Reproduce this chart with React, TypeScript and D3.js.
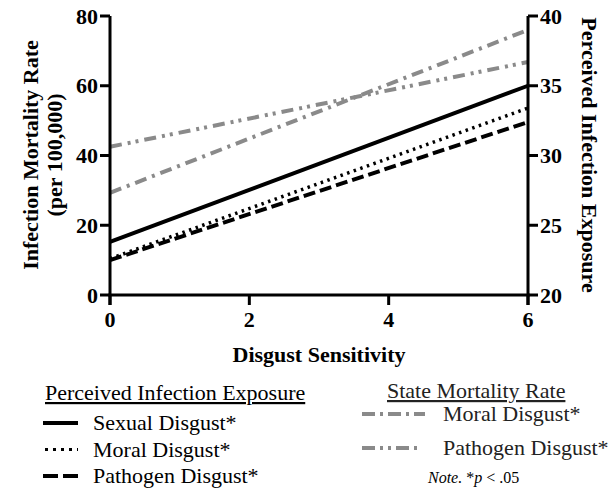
import React from "react";
import * as d3 from "d3";

// disgust sensitivity endpoints
const xValues = [0, 6];
const xTicks = [0, 2, 4, 6];
const leftTicks = [0, 20, 40, 60, 80];
const rightTicks = [20, 25, 30, 35, 40];

// Perceived Infection Exposure (right axis)
const exposureNames = ["Sexual Disgust*", "Moral Disgust*", "Pathogen Disgust*"];
const exposureValues = [
  [23.8, 35.0],
  [22.6, 33.4],
  [22.5, 32.4],
];

// State Mortality Rate (left axis)
const mortalityNames = ["Moral Disgust*", "Pathogen Disgust*"];
const mortalityValues = [
  [29.3, 76.0],
  [42.5, 66.8],
];

const exposureDash = ["", "2.5 4.5", "12 5"];
const mortalityDash = ["12 6 3 6", "12 6 3 5 3 6"];
const exposureKeyDash = ["", "3 5", "15 5"];
const mortalityKeyDash = ["13 5 3 5 13 5 3 5 12", "13 5 3 5 3 5 13 5 3"];
const GRAY = "#8a8a8a";

// font set on every text element
const bold = (size: number) => ({
  fontFamily: "Liberation Serif",
  fontWeight: "bold" as const,
  fontSize: size,
});
const plain = (size: number) => ({ fontFamily: "Liberation Serif", fontSize: size });

const App = () => {
  const width = 611;
  const height = 495;
  const x = d3.scaleLinear().domain([0, 6]).range([110, 528]);
  const yL = d3.scaleLinear().domain([0, 80]).range([295, 16]);
  const yR = d3.scaleLinear().domain([20, 40]).range([295, 16]);

  const lineL = d3
    .line<number>()
    .x((_, i) => x(xValues[i]))
    .y((d) => yL(d));
  const lineR = d3
    .line<number>()
    .x((_, i) => x(xValues[i]))
    .y((d) => yR(d));

  return (
    <svg
      width={width}
      height={height}
      style={{ position: "absolute", left: 0, top: 0, background: "#fff" }}
    >
      {/* data lines */}
      {mortalityValues.map((v, i) => (
        <path
          key={"m" + i}
          d={lineL(v) || ""}
          fill="none"
          stroke={GRAY}
          strokeWidth={4}
          strokeDasharray={mortalityDash[i]}
        />
      ))}
      {exposureValues.map((v, i) => (
        <path
          key={"e" + i}
          d={lineR(v) || ""}
          fill="none"
          stroke="#000"
          strokeWidth={i === 1 ? 3.5 : 4}
          strokeDasharray={exposureDash[i]}
        />
      ))}

      {/* axes */}
      <g stroke="#000" strokeWidth={3} fill="none">
        <line x1={x(0)} x2={x(0)} y1={yL(80)} y2={yL(0) + 10} />
        <line x1={x(6)} x2={x(6)} y1={yR(40)} y2={yR(20) + 10} />
        <line x1={x(0) - 1.5} x2={x(6) + 1.5} y1={yL(0)} y2={yL(0)} />
        {leftTicks.map((t) => (
          <line key={"lt" + t} x1={x(0) - 10} x2={x(0)} y1={yL(t)} y2={yL(t)} />
        ))}
        {rightTicks.map((t) => (
          <line key={"rt" + t} x1={x(6)} x2={x(6) + 10} y1={yR(t)} y2={yR(t)} />
        ))}
        {xTicks.map((t) => (
          <line key={"xt" + t} x1={x(t)} x2={x(t)} y1={yL(0)} y2={yL(0) + 10} />
        ))}
      </g>
      <g fill="#000">
        {leftTicks.map((t) => (
          <text key={"ll" + t} x={x(0) - 12} y={yL(t)} dy="0.35em" textAnchor="end" style={bold(22)}>
            {t}
          </text>
        ))}
        {rightTicks.map((t) => (
          <text key={"rl" + t} x={x(6) + 12} y={yR(t)} dy="0.35em" textAnchor="start" style={bold(22)}>
            {t}
          </text>
        ))}
        {xTicks.map((t) => (
          <text key={"xl" + t} x={x(t)} y={327} textAnchor="middle" style={bold(22)}>
            {t}
          </text>
        ))}
        <text x={319} y={362} textAnchor="middle" style={bold(22)}>
          Disgust Sensitivity
        </text>
        <text transform="translate(38,155) rotate(-90)" textAnchor="middle" style={bold(22)}>
          Infection Mortality Rate
        </text>
        <text transform="translate(62,155) rotate(-90)" textAnchor="middle" style={bold(22)}>
          (per 100,000)
        </text>
        <text transform="translate(582,155) rotate(90)" textAnchor="middle" style={bold(22)}>
          Perceived Infection Exposure
        </text>
      </g>

      {/* legend: exposure */}
      <g fill="#000">
        <text x={45} y={400} textDecoration="underline" style={plain(22)}>
          Perceived Infection Exposure
        </text>
        {exposureNames.map((n, i) => {
          const yy = 430 + i * 26.5;
          return (
            <g key={"le" + i}>
              <line
                x1={i === 1 ? 45 : 43}
                x2={78}
                y1={yy - 7}
                y2={yy - 7}
                stroke="#000"
                strokeWidth={i === 1 ? 3 : 4}
                strokeDasharray={exposureKeyDash[i]}
              />
              <text x={93} y={yy} style={plain(22)}>
                {n}
              </text>
            </g>
          );
        })}
      </g>

      {/* legend: mortality */}
      <g fill="#222">
        <text x={387} y={398} textDecoration="underline" style={plain(22)}>
          State Mortality Rate
        </text>
        {mortalityNames.map((n, i) => {
          const yy = 421 + i * 34;
          return (
            <g key={"lm" + i}>
              <line
                x1={362}
                x2={425}
                y1={yy - 7}
                y2={yy - 7}
                stroke={GRAY}
                strokeWidth={4}
                strokeDasharray={mortalityKeyDash[i]}
              />
              <text x={443} y={yy} style={plain(22)}>
                {n}
              </text>
            </g>
          );
        })}
        <text x={428} y={483} fill="#000" style={plain(16)}>
          <tspan fontStyle="italic">Note.</tspan> *<tspan fontStyle="italic">p</tspan> &lt; .05
        </text>
      </g>
    </svg>
  );
};

export default App;
